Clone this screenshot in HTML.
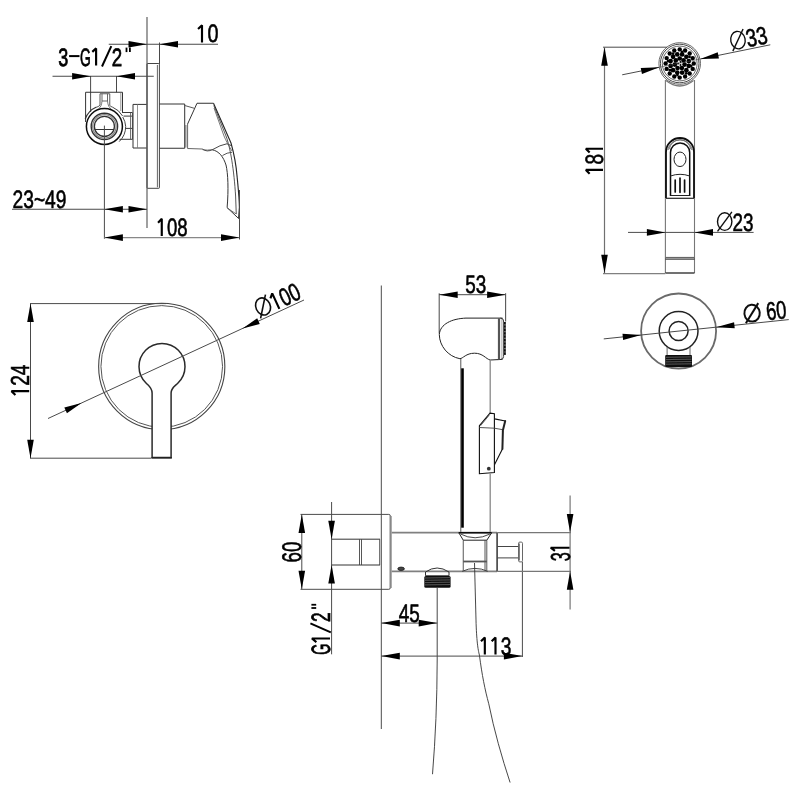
<!DOCTYPE html>
<html><head><meta charset="utf-8"><title>drawing</title>
<style>
html,body{margin:0;padding:0;background:#fff;}
svg{display:block}
text{font-family:"Liberation Sans",sans-serif;fill:#000;stroke:#000;stroke-width:0.6px;text-rendering:geometricPrecision;}
svg{will-change:transform;}
</style></head><body>
<svg width="800" height="800" viewBox="0 0 800 800">
<rect width="800" height="800" fill="#fff"/>
<defs><filter id="soft" x="0" y="0" width="800" height="800" filterUnits="userSpaceOnUse"><feGaussianBlur stdDeviation="0.35"/></filter></defs>
<g filter="url(#soft)">
<line x1="147" y1="17" x2="147" y2="228" stroke="#888" stroke-width="1.6"/>
<rect x="147" y="63.5" width="12.4" height="124.8" rx="0.6" ry="0.6" fill="none" stroke="#444" stroke-width="1"/>
<line x1="157.4" y1="65" x2="157.4" y2="187.3" stroke="#555" stroke-width="0.9"/>
<line x1="159.5" y1="42.5" x2="159.5" y2="64" stroke="#4a4a4a" stroke-width="1"/>
<line x1="108.75" y1="44.25" x2="218" y2="44.25" stroke="#4a4a4a" stroke-width="1"/>
<polygon points="147.00,44.25 128.50,47.55 128.50,40.95" fill="#000"/>
<polygon points="159.50,44.25 178.00,40.95 178.00,47.55" fill="#000"/>
<g transform="translate(196.5 42.4) rotate(0)"><path d="M5.50,0 L5.50,-17.14 L1.54,-13.35" fill="none" stroke="#000" stroke-width="2.15" stroke-linejoin="bevel"/><text x="11.00" y="0" font-size="25.2" textLength="11.00" lengthAdjust="spacingAndGlyphs">0</text></g>
<g transform="translate(58 65.5) rotate(0)"><text x="0.2" y="0" font-size="25.2" textLength="10" lengthAdjust="spacingAndGlyphs" style="stroke-width:0.8px">3</text><line x1="11.1" y1="-9.4" x2="21.5" y2="-9.4" stroke="#000" stroke-width="2"/><text x="22" y="0" font-size="25.2" textLength="10.8" lengthAdjust="spacingAndGlyphs" style="stroke-width:0.8px">G</text><path d="M38.1,0 L38.1,-17.1 L34.3,-13.6" fill="none" stroke="#000" stroke-width="2.15" stroke-linejoin="bevel"/><line x1="44" y1="1" x2="53.3" y2="-19.3" stroke="#000" stroke-width="2"/><text x="53.8" y="0" font-size="25.2" textLength="10.4" lengthAdjust="spacingAndGlyphs" style="stroke-width:0.8px">2</text><line x1="68.5" y1="-17.9" x2="68.5" y2="-13.4" stroke="#000" stroke-width="1.8"/><line x1="71.9" y1="-17.9" x2="71.9" y2="-13.4" stroke="#000" stroke-width="1.8"/></g>
<line x1="52.5" y1="76.25" x2="153.75" y2="76.25" stroke="#4a4a4a" stroke-width="1"/>
<polygon points="90.60,76.25 72.10,79.55 72.10,72.95" fill="#000"/>
<polygon points="116.50,76.25 135.00,72.95 135.00,79.55" fill="#000"/>
<line x1="90.6" y1="76" x2="90.6" y2="112" stroke="#333" stroke-width="0.9"/>
<line x1="116.5" y1="76" x2="116.5" y2="92.25" stroke="#333" stroke-width="0.9"/>
<path d="M85.6,122 L85.6,92.25 L122.5,92.25 L122.5,113" stroke="#333" stroke-width="1" fill="none" />
<line x1="120.8" y1="93" x2="120.8" y2="111" stroke="#777" stroke-width="0.8"/>
<path d="M100,105 L100,93.75 L109.75,93.75 L109.75,105" stroke="#444" stroke-width="0.9" fill="none" />
<path d="M102,101 L102,93.75 M107.5,101 L107.5,93.75 M102,101 L107.5,101" stroke="#555" stroke-width="0.9" fill="none" />
<path d="M99.8,105 Q99.5,106.5 96.5,107.2 M109.5,105 Q110,106.5 112.6,107.2" stroke="#444" stroke-width="0.9" fill="none" />
<path d="M102,101 Q101.5,107 98.5,108.8 M107.5,101 Q108,107 111,108.8" stroke="#555" stroke-width="0.8" fill="none" />
<path d="M85.2,119 A20.9,20.9 0 0 1 96.5,107.1" stroke="#333" stroke-width="1.1" fill="none" />
<path d="M112.6,107.2 A20.9,20.9 0 0 1 122.6,116 M122.75,117 A21.3,21.3 0 0 1 125.7,126.4 A21.3,21.3 0 0 1 119.2,141.6" stroke="#444" stroke-width="1" fill="none" />
<circle cx="104.4" cy="126.4" r="18.0" stroke="#111" stroke-width="1.5" fill="none"/>
<circle cx="104.4" cy="126.4" r="13.2" stroke="#333" stroke-width="1.4" fill="none"/>
<circle cx="104.4" cy="126.4" r="11.7" stroke="#888" stroke-width="1.3" fill="none"/>
<circle cx="104.4" cy="126.4" r="10.0" stroke="#333" stroke-width="1.3" fill="none"/>
<line x1="94.8" y1="129.5" x2="114" y2="129.5" stroke="#333" stroke-width="1"/>
<line x1="104.4" y1="125.6" x2="104.4" y2="238.75" stroke="#4a4a4a" stroke-width="1"/>
<line x1="122.3" y1="112.5" x2="132.5" y2="112.5" stroke="#3a3a3a" stroke-width="1"/>
<line x1="123.5" y1="116.1" x2="132.5" y2="116.1" stroke="#3a3a3a" stroke-width="1"/>
<line x1="125.7" y1="128.4" x2="132.5" y2="128.4" stroke="#3a3a3a" stroke-width="1"/>
<line x1="119.5" y1="139.3" x2="132.5" y2="139.3" stroke="#3a3a3a" stroke-width="1"/>
<line x1="130.6" y1="112.75" x2="130.6" y2="139.4" stroke="#555" stroke-width="0.9"/>
<line x1="132.5" y1="112.75" x2="132.5" y2="139.4" stroke="#555" stroke-width="0.9"/>
<path d="M146.5,104.4 L133,104.4 L133,148 L146.5,148" stroke="#333" stroke-width="1" fill="none" />
<line x1="137.5" y1="104.4" x2="137.5" y2="148" stroke="#777" stroke-width="0.8"/>
<path d="M159.5,104 L184.7,104 L184.7,148.25 L159.5,148.25" stroke="#333" stroke-width="1" fill="none" />
<path d="M184.7,105.5 L194,108.2" stroke="#444" stroke-width="0.9" fill="none" />
<path d="M187.6,124 L197,103.25 L213.5,103.25" stroke="#333" stroke-width="1" fill="none" />
<path d="M185.9,125 L185.9,147.5 M187.6,124 L187.6,148.5 L202.25,149" stroke="#555" stroke-width="0.9" fill="none" />
<path d="M202.25,149 Q207,152.5 212.75,149.5 Q220,145 227,143.75 L231,145.5" stroke="#333" stroke-width="0.9" fill="none" />
<path d="M202.5,149.6 Q207,150.6 212.5,149.6" stroke="#555" stroke-width="0.8" fill="none" />
<path d="M213.5,103.25 L231,143 C233.5,152 236,163 237,175.6 C238.2,188 239.3,198 239.4,207.4 L238.6,218.5" stroke="#222" stroke-width="1.1" fill="none" />
<path d="M213.8,105.5 L226,136 C230.5,148 234,170 235.6,196 L236.25,214" stroke="#444" stroke-width="0.9" fill="none" />
<path d="M214,108 L224,136 C226,141 229,146 232,151" stroke="#555" stroke-width="0.8" fill="none" />
<path d="M212.25,149.8 C219,151 223.5,157 226,165 C228,173 228.7,190 227.1,207.6 L238.6,218.5" stroke="#333" stroke-width="1" fill="none" />
<path d="M222.5,155.5 Q227,152.5 232,152.3" stroke="#444" stroke-width="0.9" fill="none" />
<path d="M227.25,208 L236.25,214" stroke="#555" stroke-width="0.8" fill="none" />
<g transform="translate(12.5 208.4) rotate(0)"><text x="0.00" y="0" font-size="25.2" textLength="10.69" lengthAdjust="spacingAndGlyphs">2</text><text x="10.69" y="0" font-size="25.2" textLength="10.69" lengthAdjust="spacingAndGlyphs">3</text><text x="21.38" y="0" font-size="25.2" textLength="11.23" lengthAdjust="spacingAndGlyphs">~</text><text x="32.62" y="0" font-size="25.2" textLength="10.69" lengthAdjust="spacingAndGlyphs">4</text><text x="43.31" y="0" font-size="25.2" textLength="10.69" lengthAdjust="spacingAndGlyphs">9</text></g>
<line x1="12" y1="209.25" x2="147" y2="209.25" stroke="#4a4a4a" stroke-width="1"/>
<polygon points="104.40,209.25 122.90,205.95 122.90,212.55" fill="#000"/>
<polygon points="147.00,209.25 128.50,212.55 128.50,205.95" fill="#000"/>
<g transform="translate(156.6 236) rotate(0)"><path d="M5.17,0 L5.17,-17.14 L1.45,-13.35" fill="none" stroke="#000" stroke-width="2.15" stroke-linejoin="bevel"/><text x="10.33" y="0" font-size="25.2" textLength="10.33" lengthAdjust="spacingAndGlyphs">0</text><text x="20.67" y="0" font-size="25.2" textLength="10.33" lengthAdjust="spacingAndGlyphs">8</text></g>
<line x1="104.4" y1="237.6" x2="239.5" y2="237.6" stroke="#888" stroke-width="1.2"/>
<polygon points="104.40,237.60 122.90,234.30 122.90,240.90" fill="#000"/>
<polygon points="239.50,237.60 221.00,240.90 221.00,234.30" fill="#000"/>
<line x1="239.5" y1="190" x2="239.5" y2="239.5" stroke="#4a4a4a" stroke-width="1"/>
<circle cx="161.75" cy="366.4" r="63.1" stroke="#444" stroke-width="1.1" fill="none"/>
<circle cx="161.75" cy="366.4" r="60.8" stroke="#555" stroke-width="1.0" fill="none"/>
<path d="M152.1,457.6 L152.1,393 C152.1,388 149.5,386.5 146,383 A23,23 0 1 1 178,383 C174.5,386.5 171.1,388 171.1,393 L171.1,457.6 Z" stroke="#2a2a2a" stroke-width="1.5" fill="#fff" />
<line x1="151.4" y1="457.8" x2="171.8" y2="457.8" stroke="#222" stroke-width="1.6"/>
<line x1="30" y1="303.6" x2="166" y2="303.6" stroke="#4a4a4a" stroke-width="1"/>
<line x1="30" y1="458.2" x2="151" y2="458.2" stroke="#4a4a4a" stroke-width="1"/>
<line x1="30.5" y1="303.6" x2="30.5" y2="458.2" stroke="#4a4a4a" stroke-width="1"/>
<polygon points="30.50,303.60 33.80,322.10 27.20,322.10" fill="#000"/>
<polygon points="30.50,458.20 27.20,439.70 33.80,439.70" fill="#000"/>
<g transform="translate(29.2 396.5) rotate(-90)"><path d="M5.33,0 L5.33,-17.72 L1.49,-13.78" fill="none" stroke="#000" stroke-width="2.15" stroke-linejoin="bevel"/><text x="10.67" y="0" font-size="26" textLength="10.67" lengthAdjust="spacingAndGlyphs">2</text><text x="21.33" y="0" font-size="26" textLength="10.67" lengthAdjust="spacingAndGlyphs">4</text></g>
<line x1="48" y1="418.5" x2="304" y2="300" stroke="#4a4a4a" stroke-width="1"/>
<polygon points="81.50,403.00 66.92,413.16 64.32,407.54" fill="#000"/>
<polygon points="242.60,328.50 257.18,318.34 259.78,323.96" fill="#000"/>
<g transform="translate(260 317.8) rotate(-24.84)"><ellipse cx="7.5" cy="-9.0" rx="7.2" ry="8.8" fill="none" stroke="#111" stroke-width="1.6"/><line x1="0.2999999999999998" y1="0.8" x2="14.7" y2="-18.8" stroke="#111" stroke-width="1.6"/><path d="M21.33,0 L21.33,-17.00 L17.64,-13.25" fill="none" stroke="#000" stroke-width="2.15" stroke-linejoin="bevel"/><text x="26.47" y="0" font-size="25" textLength="10.27" lengthAdjust="spacingAndGlyphs">0</text><text x="36.73" y="0" font-size="25" textLength="10.27" lengthAdjust="spacingAndGlyphs">0</text></g>
<circle cx="679.7" cy="63.5" r="20.8" stroke="#666" stroke-width="1.0" fill="none"/>
<circle cx="679.7" cy="63.5" r="19.3" stroke="#333" stroke-width="0.9" fill="none"/>
<circle cx="679.7" cy="63.5" r="17.4" stroke="#444" stroke-width="0.8" fill="none"/>
<path d="M666,80.5 Q679.7,91.5 693.5,80.5" stroke="#777" stroke-width="1.3" fill="none" />
<circle cx="679.70" cy="49.40" r="2.2" fill="#000"/>
<circle cx="685.10" cy="50.47" r="2.2" fill="#000"/>
<circle cx="689.67" cy="53.53" r="2.2" fill="#000"/>
<circle cx="692.73" cy="58.10" r="2.2" fill="#000"/>
<circle cx="693.80" cy="63.50" r="2.2" fill="#000"/>
<circle cx="692.73" cy="68.90" r="2.2" fill="#000"/>
<circle cx="689.67" cy="73.47" r="2.2" fill="#000"/>
<circle cx="685.10" cy="76.53" r="2.2" fill="#000"/>
<circle cx="679.70" cy="77.60" r="2.2" fill="#000"/>
<circle cx="674.30" cy="76.53" r="2.2" fill="#000"/>
<circle cx="669.73" cy="73.47" r="2.2" fill="#000"/>
<circle cx="666.67" cy="68.90" r="2.2" fill="#000"/>
<circle cx="665.60" cy="63.50" r="2.2" fill="#000"/>
<circle cx="666.67" cy="58.10" r="2.2" fill="#000"/>
<circle cx="669.73" cy="53.53" r="2.2" fill="#000"/>
<circle cx="674.30" cy="50.47" r="2.2" fill="#000"/>
<circle cx="682.00" cy="51.93" r="1.4" fill="#000"/>
<circle cx="689.51" cy="56.94" r="1.4" fill="#000"/>
<circle cx="691.27" cy="65.80" r="1.4" fill="#000"/>
<circle cx="686.26" cy="73.31" r="1.4" fill="#000"/>
<circle cx="677.40" cy="75.07" r="1.4" fill="#000"/>
<circle cx="669.89" cy="70.06" r="1.4" fill="#000"/>
<circle cx="668.13" cy="61.20" r="1.4" fill="#000"/>
<circle cx="673.14" cy="53.69" r="1.4" fill="#000"/>
<circle cx="682.13" cy="54.42" r="2.35" fill="#000"/>
<circle cx="686.35" cy="56.85" r="2.35" fill="#000"/>
<circle cx="688.78" cy="61.07" r="2.35" fill="#000"/>
<circle cx="688.78" cy="65.93" r="2.35" fill="#000"/>
<circle cx="686.35" cy="70.15" r="2.35" fill="#000"/>
<circle cx="682.13" cy="72.58" r="2.35" fill="#000"/>
<circle cx="677.27" cy="72.58" r="2.35" fill="#000"/>
<circle cx="673.05" cy="70.15" r="2.35" fill="#000"/>
<circle cx="670.62" cy="65.93" r="2.35" fill="#000"/>
<circle cx="670.62" cy="61.07" r="2.35" fill="#000"/>
<circle cx="673.05" cy="56.85" r="2.35" fill="#000"/>
<circle cx="677.27" cy="54.42" r="2.35" fill="#000"/>
<circle cx="679.70" cy="58.50" r="2.35" fill="#000"/>
<circle cx="683.61" cy="60.38" r="2.35" fill="#000"/>
<circle cx="684.57" cy="64.61" r="2.35" fill="#000"/>
<circle cx="681.87" cy="68.00" r="2.35" fill="#000"/>
<circle cx="677.53" cy="68.00" r="2.35" fill="#000"/>
<circle cx="674.83" cy="64.61" r="2.35" fill="#000"/>
<circle cx="675.79" cy="60.38" r="2.35" fill="#000"/>
<circle cx="680.50" cy="62.11" r="1.0" fill="#000"/>
<circle cx="680.50" cy="64.89" r="1.0" fill="#000"/>
<circle cx="678.10" cy="63.50" r="1.0" fill="#000"/>
<line x1="665.4" y1="80" x2="665.4" y2="273" stroke="#777" stroke-width="1.1"/>
<line x1="694.5" y1="80" x2="694.5" y2="273" stroke="#777" stroke-width="1.1"/>
<path d="M666,198 L666,152 A14,14 0 0 1 694,152 L694,198" stroke="#111" stroke-width="1.8" fill="none" />
<path d="M670.5,196 L670.5,152.5 A9.6,9.6 0 0 1 689.7,152.5 L689.7,196" stroke="#111" stroke-width="1.5" fill="none" />
<path d="M668.5,150 A11.6,11.6 0 0 1 691.5,150" stroke="#666" stroke-width="0.7" fill="none" />
<path d="M669.5,149 A10.6,10.6 0 0 1 690.5,149" stroke="#666" stroke-width="0.7" fill="none" />
<path d="M667.6,150 A12.6,12.6 0 0 1 692.4,150" stroke="#666" stroke-width="0.7" fill="none" />
<ellipse cx="680" cy="159.3" rx="6" ry="7.25" fill="none" stroke="#222" stroke-width="1"/>
<path d="M670.5,176 Q680,172.6 689.7,176" stroke="#222" stroke-width="1" fill="none" />
<path d="M675.2,180 L675.2,192 M680,178 L680,192.3 M684.6,180 L684.6,192" stroke="#111" stroke-width="1.7" fill="none" stroke-linecap="round"/>
<line x1="670.5" y1="195.5" x2="689.7" y2="195.5" stroke="#222" stroke-width="1"/>
<line x1="666" y1="198.3" x2="694" y2="198.3" stroke="#222" stroke-width="1.2"/>
<line x1="665.4" y1="257.5" x2="694.5" y2="257.5" stroke="#666" stroke-width="1.2"/>
<line x1="665.4" y1="259.1" x2="694.5" y2="259.1" stroke="#222" stroke-width="1.1"/>
<line x1="665.4" y1="273" x2="694.5" y2="273" stroke="#333" stroke-width="1.4"/>
<line x1="603" y1="47.2" x2="667" y2="47.2" stroke="#4a4a4a" stroke-width="1"/>
<line x1="603" y1="273.6" x2="665.4" y2="273.6" stroke="#808080" stroke-width="1.4"/>
<line x1="604.5" y1="47.2" x2="604.5" y2="273.2" stroke="#707070" stroke-width="1.2"/>
<polygon points="604.50,47.20 607.80,65.70 601.20,65.70" fill="#000"/>
<polygon points="604.50,273.20 601.20,254.70 607.80,254.70" fill="#000"/>
<g transform="translate(603 175.2) rotate(-90)"><path d="M5.30,0 L5.30,-17.14 L1.48,-13.35" fill="none" stroke="#000" stroke-width="2.15" stroke-linejoin="bevel"/><text x="10.60" y="0" font-size="25.2" textLength="10.60" lengthAdjust="spacingAndGlyphs">8</text><path d="M26.50,0 L26.50,-17.14 L22.68,-13.35" fill="none" stroke="#000" stroke-width="2.15" stroke-linejoin="bevel"/></g>
<line x1="622.2" y1="74.8" x2="659.3" y2="67.3" stroke="#4a4a4a" stroke-width="1"/>
<line x1="700.4" y1="59" x2="770.3" y2="44.8" stroke="#4a4a4a" stroke-width="1"/>
<line x1="659.3" y1="67.3" x2="700.4" y2="59" stroke="#444" stroke-width="0.6"/>
<polygon points="659.30,67.30 641.98,73.97 640.75,67.89" fill="#000"/>
<polygon points="700.40,59.00 717.72,52.33 718.95,58.41" fill="#000"/>
<g transform="translate(732.4 50.4) rotate(-11.45)"><ellipse cx="7.5" cy="-9.0" rx="7.2" ry="8.8" fill="none" stroke="#111" stroke-width="1.4"/><line x1="0.2999999999999998" y1="0.8" x2="14.7" y2="-18.8" stroke="#111" stroke-width="1.4"/><text x="15.60" y="0" font-size="25" textLength="10.75" lengthAdjust="spacingAndGlyphs">3</text><text x="26.35" y="0" font-size="25" textLength="10.75" lengthAdjust="spacingAndGlyphs">3</text></g>
<line x1="628" y1="232.4" x2="753.6" y2="232.4" stroke="#4a4a4a" stroke-width="1"/>
<polygon points="665.40,232.40 646.90,235.70 646.90,229.10" fill="#000"/>
<polygon points="694.50,232.40 713.00,229.10 713.00,235.70" fill="#000"/>
<g transform="translate(717.2 230.6) rotate(0)"><ellipse cx="7.5" cy="-9.0" rx="7.2" ry="8.8" fill="none" stroke="#111" stroke-width="1.4"/><line x1="0.2999999999999998" y1="0.8" x2="14.7" y2="-18.8" stroke="#111" stroke-width="1.4"/><text x="15.20" y="0" font-size="25" textLength="10.50" lengthAdjust="spacingAndGlyphs">2</text><text x="25.70" y="0" font-size="25" textLength="10.50" lengthAdjust="spacingAndGlyphs">3</text></g>
<circle cx="678.6" cy="331" r="37.5" stroke="#6a6a6a" stroke-width="1.8" fill="none"/>
<circle cx="678.6" cy="331" r="19.4" stroke="#222" stroke-width="1.5" fill="none"/>
<circle cx="678.6" cy="331" r="9.5" stroke="#222" stroke-width="1.5" fill="none"/>
<line x1="667.1" y1="347" x2="667.1" y2="355" stroke="#666" stroke-width="1"/>
<line x1="690" y1="347" x2="690" y2="355" stroke="#666" stroke-width="1"/>
<rect x="665.2" y="355" width="26.8" height="12" rx="1" fill="#111"/>
<line x1="666" y1="357.3" x2="691.5" y2="356.90000000000003" stroke="#999" stroke-width="0.5"/>
<line x1="666" y1="359.6" x2="691.5" y2="359.20000000000005" stroke="#999" stroke-width="0.5"/>
<line x1="666" y1="361.9" x2="691.5" y2="361.5" stroke="#999" stroke-width="0.5"/>
<line x1="666" y1="364.2" x2="691.5" y2="363.8" stroke="#999" stroke-width="0.5"/>
<line x1="603.75" y1="338.9" x2="788.75" y2="319.6" stroke="#4a4a4a" stroke-width="1"/>
<polygon points="641.20,335.00 623.12,340.00 622.48,333.84" fill="#000"/>
<polygon points="716.00,327.20 734.08,322.20 734.72,328.36" fill="#000"/>
<g transform="translate(745 322.6) rotate(-5.96)"><ellipse cx="8.0" cy="-8.6" rx="7.7" ry="8.4" fill="none" stroke="#111" stroke-width="2.0"/><line x1="0.7999999999999998" y1="0.8" x2="15.2" y2="-18.0" stroke="#111" stroke-width="2.0"/><text x="22.00" y="0" font-size="25.5" textLength="10.25" lengthAdjust="spacingAndGlyphs">6</text><text x="32.25" y="0" font-size="25.5" textLength="10.25" lengthAdjust="spacingAndGlyphs">0</text></g>
<line x1="381.3" y1="285.5" x2="381.3" y2="729" stroke="#4a4a4a" stroke-width="1"/>
<line x1="439.2" y1="294.7" x2="505.6" y2="294.7" stroke="#4a4a4a" stroke-width="1"/>
<polygon points="439.20,294.70 457.70,291.40 457.70,298.00" fill="#000"/>
<polygon points="505.60,294.70 487.10,298.00 487.10,291.40" fill="#000"/>
<line x1="439.2" y1="293.3" x2="439.2" y2="333.5" stroke="#333" stroke-width="0.9"/>
<line x1="505.6" y1="293.3" x2="505.6" y2="321.6" stroke="#555" stroke-width="1.1"/>
<g transform="translate(465.2 293) rotate(0)"><text x="0.00" y="0" font-size="25.2" textLength="10.50" lengthAdjust="spacingAndGlyphs">5</text><text x="10.50" y="0" font-size="25.2" textLength="10.50" lengthAdjust="spacingAndGlyphs">3</text></g>
<path d="M502.5,318.1 L466,318.1 C452,318.6 440,324 439.3,334.6 C439.5,346 448,356.5 459.9,358.7 C463,358.5 466,353.2 474.5,353.2 C483,353.2 486,359 490.1,360 L502.5,359.4" stroke="#222" stroke-width="1" fill="none" />
<path d="M499,318.3 L499,359.6" stroke="#555" stroke-width="2.2" fill="none" />
<path d="M501.9,318.5 L501.9,359.3" stroke="#999" stroke-width="0.9" fill="none" />
<path d="M500.5,318.1 Q503.6,318.3 503.6,321 L503.6,356.5 Q503.6,359.3 500.5,359.5" stroke="#333" stroke-width="1" fill="none" />
<rect x="503.6" y="322" width="2.3" height="33" fill="#666"/>
<path d="M504.8,322 L504.8,355" stroke="#111" stroke-width="1.6" fill="none" stroke-dasharray="2.2 1.2"/>
<line x1="460.8" y1="359" x2="460.8" y2="533" stroke="#555" stroke-width="1"/>
<line x1="490.2" y1="360" x2="490.2" y2="413" stroke="#888" stroke-width="1.3"/>
<line x1="490.2" y1="473.7" x2="490.2" y2="533" stroke="#888" stroke-width="1.3"/>
<line x1="462.5" y1="368.3" x2="462.5" y2="527.7" stroke="#000" stroke-width="2.6"/>
<path d="M490,413.1 L479.4,425.6 L479.4,473.75 L494.4,472.5 L494.4,413.75 Z" stroke="#111" stroke-width="1.1" fill="none" />
<path d="M489.2,415.2 L480.5,425.8" stroke="#444" stroke-width="0.8" fill="none" />
<path d="M479.4,427.5 L494.4,428.2 L502.2,429.6" stroke="#444" stroke-width="0.9" fill="none" />
<path d="M494.6,418.9 L505.2,421 M502.4,449 L494.6,464.5" stroke="#111" stroke-width="1.1" fill="none" />
<path d="M505.2,421 L502.9,430.3 L502.4,449" stroke="#222" stroke-width="2.0" fill="none" stroke-linejoin="round" stroke-linecap="round"/>
<circle cx="488.8" cy="468.7" r="1.9" fill="#333"/>
<path d="M300.5,514.4 L388.8,514.4 Q390.3,514.4 390.3,516 L390.3,587.7 Q390.3,589.3 388.8,589.3 L300.5,589.3" stroke="#4a4a4a" stroke-width="1" fill="none" />
<line x1="390.7" y1="516" x2="390.7" y2="588" stroke="#888" stroke-width="2.0"/>
<line x1="301.8" y1="514.4" x2="301.8" y2="589.3" stroke="#4a4a4a" stroke-width="1"/>
<polygon points="301.80,514.40 305.10,532.90 298.50,532.90" fill="#000"/>
<polygon points="301.80,589.30 298.50,570.80 305.10,570.80" fill="#000"/>
<g transform="translate(301.1 562.4) rotate(-90)"><text x="0.00" y="0" font-size="27" textLength="10.40" lengthAdjust="spacingAndGlyphs">6</text><text x="10.40" y="0" font-size="27" textLength="10.40" lengthAdjust="spacingAndGlyphs">0</text></g>
<line x1="331.6" y1="502" x2="331.6" y2="654.3" stroke="#4a4a4a" stroke-width="1"/>
<polygon points="331.60,539.20 328.30,520.70 334.90,520.70" fill="#000"/>
<polygon points="331.60,565.00 334.90,583.50 328.30,583.50" fill="#000"/>
<path d="M331.6,539.2 L380,539.2 M331.6,565 L380,565" stroke="#333" stroke-width="1" fill="none" />
<path d="M359.5,539.2 L359.5,565 M361.5,539.2 L361.5,565 M379.7,539.2 L379.7,565" stroke="#444" stroke-width="0.9" fill="none" />
<g transform="translate(330 654.3) rotate(-90)"><text x="-0.5" y="0" font-size="26.5" textLength="11" lengthAdjust="spacingAndGlyphs" style="stroke-width:0.8px">G</text><path d="M15.8,0 L15.8,-18.1 L12.2,-13.6" fill="none" stroke="#000" stroke-width="2.15" stroke-linejoin="bevel"/><line x1="21.9" y1="0.8" x2="30.9" y2="-19.6" stroke="#000" stroke-width="2"/><text x="32.3" y="0" font-size="26.5" textLength="9.6" lengthAdjust="spacingAndGlyphs" style="stroke-width:0.8px">2</text><line x1="46.3" y1="-18.6" x2="46.3" y2="-13.8" stroke="#000" stroke-width="1.8"/><line x1="49.55" y1="-18.6" x2="49.55" y2="-13.8" stroke="#000" stroke-width="1.8"/></g>
<path d="M391.7,532.7 L497.1,532.7 M497.1,571.3 L391.7,571.3" stroke="#808080" stroke-width="1.7" fill="none" />
<line x1="497.1" y1="532.7" x2="497.1" y2="571.3" stroke="#333" stroke-width="1.5"/>
<ellipse cx="401.1" cy="568.8" rx="3.3" ry="1.7" fill="#444" stroke="#111" stroke-width="0.8"/>
<path d="M425.5,575.75 L425.5,572 Q437,564 449,572 L449,575.75 Z" stroke="#333" stroke-width="1" fill="none" />
<rect x="424.3" y="576" width="26.3" height="11.7" rx="1.5" fill="#111"/>
<line x1="425" y1="578" x2="450" y2="577.6" stroke="#999" stroke-width="0.5"/>
<line x1="425" y1="580.3" x2="450" y2="579.9" stroke="#999" stroke-width="0.5"/>
<line x1="425" y1="582.6" x2="450" y2="582.2" stroke="#999" stroke-width="0.5"/>
<line x1="425" y1="584.9" x2="450" y2="584.5" stroke="#999" stroke-width="0.5"/>
<path d="M437.2,587.75 L437.2,660 Q437,720 432.5,774.2" stroke="#333" stroke-width="0.9" fill="none" />
<path d="M458.75,532.7 L491.75,532.7" stroke="#111" stroke-width="1.6" fill="none" />
<path d="M458.75,532.7 L463.25,540.2 L486.8,540.2 L491.75,532.7" stroke="#222" stroke-width="1" fill="none" />
<path d="M460.5,534 Q475,541.5 490,534" stroke="#333" stroke-width="0.9" fill="none" />
<path d="M463.25,540.2 L463.25,570.5 M486.8,540.2 L486.8,570.5 M485,540.2 L485,570.5" stroke="#444" stroke-width="0.9" fill="none" />
<line x1="463.25" y1="561.5" x2="486.8" y2="561.5" stroke="#555" stroke-width="1.8"/>
<path d="M462.2,571.3 Q475,565.5 487.7,571.3" stroke="#333" stroke-width="0.9" fill="none" />
<path d="M474.5,563 L476,620 C476.5,640 478,650 479.4,655 C482,675 485,690 488.75,703.75 C494,730 502,758 510.1,782.5" stroke="#333" stroke-width="0.9" fill="none" />
<path d="M497.1,546.5 L518.5,546.5 M497.1,557.9 L518.5,557.9" stroke="#444" stroke-width="1" fill="none" />
<rect x="518.6" y="542.1" width="3.9" height="19.8" rx="1.2" fill="none" stroke="#555" stroke-width="0.9"/>
<line x1="519.0" y1="543.5" x2="519.0" y2="560.5" stroke="#666" stroke-width="1.6"/>
<line x1="522.4" y1="561.9" x2="522.4" y2="657" stroke="#4a4a4a" stroke-width="1"/>
<line x1="497.1" y1="532.6" x2="571" y2="532.6" stroke="#777" stroke-width="1.2"/>
<line x1="497.1" y1="571.3" x2="571" y2="571.3" stroke="#777" stroke-width="1.2"/>
<line x1="570.1" y1="495.4" x2="570.1" y2="609.5" stroke="#777" stroke-width="1.2"/>
<polygon points="570.10,532.60 566.80,514.10 573.40,514.10" fill="#000"/>
<polygon points="570.10,571.30 573.40,589.80 566.80,589.80" fill="#000"/>
<g transform="translate(569.5 561.2) rotate(-90)"><text x="0.00" y="0" font-size="27.5" textLength="9.00" lengthAdjust="spacingAndGlyphs">3</text><path d="M13.50,0 L13.50,-18.79 L10.26,-14.57" fill="none" stroke="#000" stroke-width="2.15" stroke-linejoin="bevel"/></g>
<line x1="381.3" y1="623.1" x2="437.2" y2="623.1" stroke="#4a4a4a" stroke-width="1"/>
<polygon points="381.30,623.10 399.80,619.80 399.80,626.40" fill="#000"/>
<polygon points="437.20,623.10 418.70,626.40 418.70,619.80" fill="#000"/>
<g transform="translate(398.8 621.6) rotate(0)"><text x="0.00" y="0" font-size="25.2" textLength="10.50" lengthAdjust="spacingAndGlyphs">4</text><text x="10.50" y="0" font-size="25.2" textLength="10.50" lengthAdjust="spacingAndGlyphs">5</text></g>
<line x1="381.3" y1="656.1" x2="522.4" y2="656.1" stroke="#4a4a4a" stroke-width="1"/>
<polygon points="381.30,656.10 399.80,652.80 399.80,659.40" fill="#000"/>
<polygon points="522.40,656.10 503.90,659.40 503.90,652.80" fill="#000"/>
<g transform="translate(479.5 654.6) rotate(0)"><path d="M5.33,0 L5.33,-17.14 L1.49,-13.35" fill="none" stroke="#000" stroke-width="2.15" stroke-linejoin="bevel"/><path d="M16.00,0 L16.00,-17.14 L12.16,-13.35" fill="none" stroke="#000" stroke-width="2.15" stroke-linejoin="bevel"/><text x="21.33" y="0" font-size="25.2" textLength="10.67" lengthAdjust="spacingAndGlyphs">3</text></g>
</g>
</svg>
</body></html>
